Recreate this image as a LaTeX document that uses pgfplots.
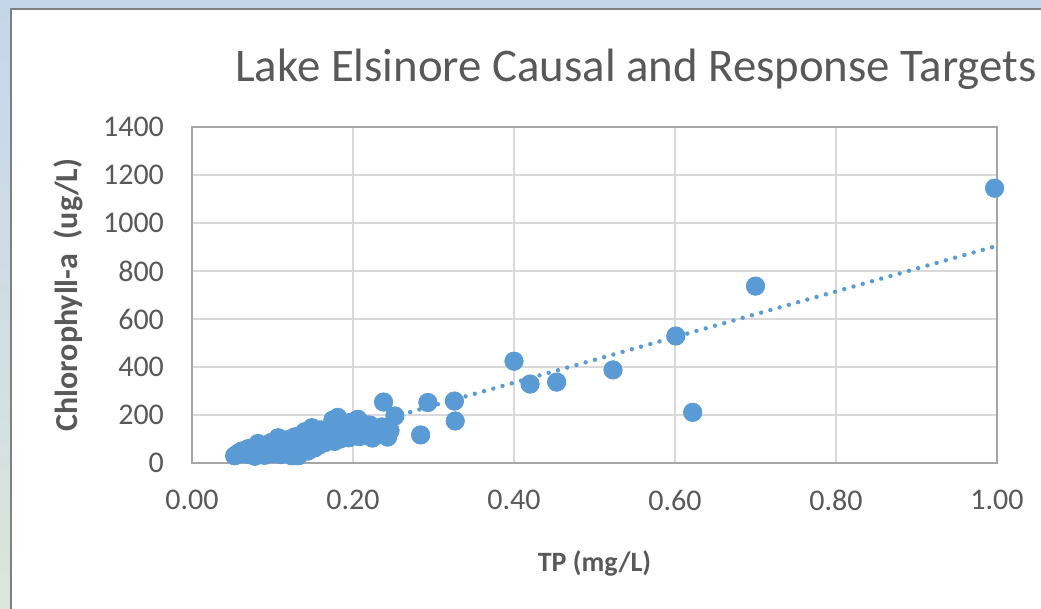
\documentclass[border=0pt]{standalone}
\usepackage{pgfplots}
\pgfplotsset{compat=1.18}
\usepackage{fontspec}
\setmainfont{Carlito}
\definecolor{xlblue}{HTML}{5B9BD5}
\definecolor{txtgray}{HTML}{595959}
\definecolor{gridgray}{HTML}{D9D9D9}
\definecolor{axgray}{HTML}{A6A6A6}
\definecolor{winblue}{HTML}{C4D6EA}
\definecolor{wingreen}{HTML}{DCE5DC}
\begin{document}
\begin{tikzpicture}
% window frame behind the chart (1px = 0.5pt)
\shade[top color=winblue, bottom color=wingreen] (0,0) rectangle (520.5pt,304.5pt);
\fill[white] (5pt,0) rectangle (520.5pt,300.5pt);
\draw[gray, line width=1pt] (5.5pt,0) -- (5.5pt,300pt) -- (520.5pt,300pt);
\begin{axis}[
  scale only axis,
  width=402.5pt, height=168pt,
  at={(96pt,73pt)}, anchor=south west,
  xmin=0, xmax=1, ymin=0, ymax=1400,
  xtick={0,0.2,0.4,0.6,0.8,1},
  ytick={0,200,400,600,800,1000,1200,1400},
  xticklabel style={yshift=-10pt, /pgf/number format/fixed,
    /pgf/number format/fixed zerofill, /pgf/number format/precision=2},
  yticklabel style={xshift=-10.5pt, /pgf/number format/fixed,
    /pgf/number format/1000 sep={}},
  /pgf/number format/assume math mode=true,
  major tick length=0pt,
  grid=major,
  grid style={gridgray, line width=0.8pt},
  axis line style={axgray, line width=0.8pt},
  ticklabel style={font=\fontsize{15pt}{18pt}\selectfont, text=txtgray},
  title={Lake Elsinore Causal and Response Targets},
  title style={font=\fontsize{23.4pt}{28pt}\selectfont, text=txtgray,
    at={(axis description cs:0.5516,1.101)}, anchor=base},
  xlabel={\textbf{TP (mg/L)}},
  ylabel={\textbf{Chlorophyll-a\ \ (ug/L)}},
  xlabel style={font=\fontsize{14pt}{17pt}\selectfont, text=txtgray,
    at={(axis description cs:0.5,-0.298)}, anchor=center},
  ylabel style={font=\fontsize{16pt}{19pt}\selectfont, text=txtgray,
    at={(axis description cs:-0.153,0.5)}, anchor=center},
  clip=false,
]
% linear trendline
\addplot[xlblue, line width=2.2pt, dash pattern=on 0pt off 4.8pt, line cap=round]
  coordinates {(0.053,5) (0.997,902)};
% observations
\addplot[only marks, mark=*, mark size=4.6pt, color=xlblue, fill=xlblue] coordinates {
  (0.053,30) (0.058,42) (0.062,50) (0.066,38) (0.070,60) (0.072,35) (0.075,48)
  (0.078,28) (0.080,70) (0.082,81) (0.085,45) (0.088,60) (0.090,32) (0.092,75)
  (0.095,50) (0.098,85) (0.100,40) (0.100,65)
  (0.104,88) (0.107,105) (0.108,55) (0.110,35) (0.112,75) (0.115,95) (0.118,45)
  (0.120,62) (0.122,100) (0.124,30) (0.126,80) (0.128,109) (0.130,55)
  (0.132,30) (0.134,90) (0.137,70) (0.140,130) (0.142,110) (0.144,50) (0.147,85)
  (0.149,147) (0.150,120) (0.152,62) (0.155,100) (0.158,75) (0.160,138) (0.162,110)
  (0.165,85) (0.168,120) (0.170,100) (0.173,150) (0.175,179) (0.177,90) (0.180,130)
  (0.181,190) (0.184,100) (0.188,115)
  (0.192,140) (0.195,105) (0.198,170) (0.200,120) (0.203,150) (0.206,182) (0.208,110)
  (0.212,135) (0.215,160) (0.218,115) (0.221,158) (0.224,104) (0.228,140) (0.232,120)
  (0.236,150) (0.240,125) (0.243,108) (0.246,135)
  (0.238,254) (0.252,196) (0.284,117) (0.293,252) (0.326,258) (0.327,175)
  (0.400,424) (0.420,329) (0.453,337) (0.523,388) (0.601,529) (0.622,211)
  (0.700,737) (0.997,1145)
};
\end{axis}
\pgfresetboundingbox
\path (0,0) rectangle (520.5pt,304.5pt);
\end{tikzpicture}
\end{document}
